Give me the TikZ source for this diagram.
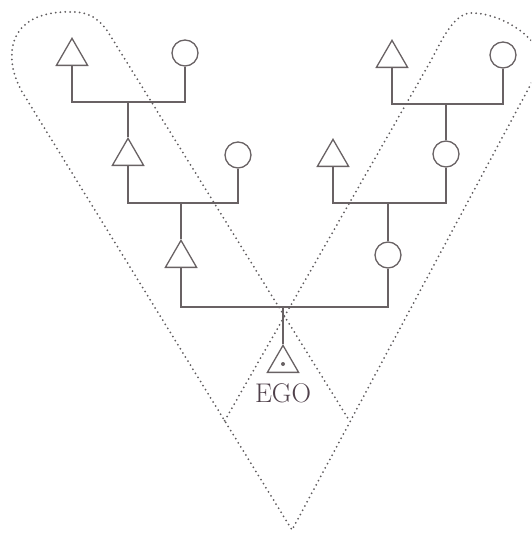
\documentclass[tikz,border=0pt]{standalone}
\usepackage{fontspec}
\usetikzlibrary{shapes.geometric}
\definecolor{ink}{RGB}{105,98,100}
\definecolor{dotc}{RGB}{95,92,94}
\definecolor{egoc}{RGB}{80,65,75}
\tikzset{
 kin/.style={draw=ink, line width=1.3pt},
 tri/.style={kin, regular polygon, regular polygon sides=3, minimum size=36pt, inner sep=0pt, anchor=south},
 circ/.style={kin, circle, minimum size=26pt, inner sep=0pt},
 link/.style={draw=ink, line width=1.2pt},
 zone/.style={draw=dotc, line width=2pt, line cap=round, dash pattern=on 0pt off 4.8pt},
}
\begin{document}
\begin{tikzpicture}[x=1pt,y=-1pt]
\useasboundingbox (0,0) rectangle (531,533);
% kinship zones (dotted strips)
\begin{scope}
\clip (0,0) rectangle (531,533);
\draw[zone] (224.7,420.7) -- (429,64) .. controls (438,48.4) and (452,13) .. (471,13)
  .. controls (510,13) and (549.4,49.4) .. (540,67) -- (292,530) -- (24,95)
  .. controls (2,60) and (5,10) .. (72,12) .. controls (88,11) and (100.6,20.1) .. (108,32)
  -- (350,421.7);
\end{scope}
% individuals
\node[tri] (T1) at (72,66) {};
\node[circ] (C1) at (185,53) {};
\node[tri] (T2) at (128,166) {};
\node[circ] (C2) at (238,155) {};
\node[tri] (T3) at (181,268) {};
\node[tri] (T4) at (392,68) {};
\node[circ] (C3) at (503,55) {};
\node[circ] (C4) at (446,154) {};
\node[tri] (T5) at (333,167) {};
\node[circ] (C5) at (388,255) {};
\node[tri] (E) at (283,373) {};
\node[fill=ink, circle, inner sep=0pt, minimum size=4pt] (Ed) at (283,364) {};
\node[text=egoc, font=\fontsize{27}{30}\selectfont, inner sep=0pt] (EGO) at (283,393) {EGO};
% marriage lines
\coordinate (h1) at (0,102);
\coordinate (h2) at (0,203);
\coordinate (h3) at (0,307);
\coordinate (h4) at (0,104);
\coordinate (h5) at (0,203);
\draw[link] (T1.south) -- (T1.south |- h1) -- (C1.south |- h1) -- (C1.south);
\draw[link] (T2.north) -- (T2.north |- h1);
\draw[link] (T2.south) -- (T2.south |- h2) -- (C2.south |- h2) -- (C2.south);
\draw[link] (T3.north) -- (T3.north |- h2);
\draw[link] (T3.south) -- (T3.south |- h3) -- (C5.south |- h3) -- (C5.south);
\draw[link] (E.north) -- (E.north |- h3);
\draw[link] (T4.south) -- (T4.south |- h4) -- (C3.south |- h4) -- (C3.south);
\draw[link] (C4.north) -- (C4.north |- h4);
\draw[link] (T5.south) -- (T5.south |- h5) -- (C4.south |- h5) -- (C4.south);
\draw[link] (C5.north) -- (C5.north |- h5);
\end{tikzpicture}
\end{document}
